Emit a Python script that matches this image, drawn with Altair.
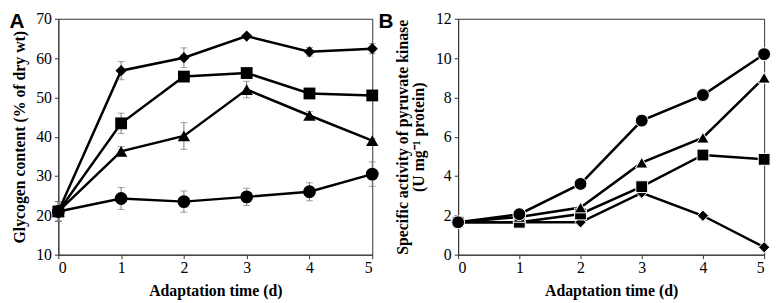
import altair as alt
import pandas as pd

# ---------------- data ----------------
days = [0, 1, 2, 3, 4, 5]
markers = ["diamond", "square", "triangle", "circle"]

# Panel A: glycogen content (% of dry wt)
glycogen_diamond = [21.0, 56.8, 60.1, 65.6, 61.6, 62.4]
glycogen_diamond_err = [2.5, 2.3, 2.5, 0.4, 1.1, 1.3]
glycogen_square = [21.0, 43.4, 55.3, 56.2, 51.0, 50.5]
glycogen_square_err = [2.5, 2.6, 1.0, 0.6, 0.6, 0.6]
glycogen_triangle = [21.0, 36.3, 40.2, 52.0, 45.4, 39.0]
glycogen_triangle_err = [2.5, 1.2, 3.4, 2.1, 1.0, 0.5]
glycogen_circle = [21.0, 24.3, 23.5, 24.7, 26.0, 30.5]
glycogen_circle_err = [2.5, 2.8, 2.7, 2.2, 2.3, 3.1]

# Panel B: specific activity of pyruvate kinase (U mg-1 protein)
pk_diamond = [1.65, 1.65, 1.65, 3.15, 1.98, 0.38]
pk_square = [1.65, 1.65, 2.07, 3.46, 5.07, 4.85]
pk_triangle = [1.65, 1.92, 2.40, 4.68, 5.95, 9.0]
pk_circle = [1.65, 2.06, 3.60, 6.82, 8.12, 10.2]

ticks_A = [10, 20, 30, 40, 50, 60, 70]
ticks_B = [0, 2, 4, 6, 8, 10, 12]

# ---------------- tables ----------------
rowsA = []
for m, vals, errs in zip(
    markers,
    [glycogen_diamond, glycogen_square, glycogen_triangle, glycogen_circle],
    [glycogen_diamond_err, glycogen_square_err, glycogen_triangle_err, glycogen_circle_err],
):
    for d, v, e in zip(days, vals, errs):
        rowsA.append({"day": d, "value": v, "lo": v - e, "hi": v + e, "marker": m})
dfA = pd.DataFrame(rowsA)

rowsB = []
for m, vals in zip(markers, [pk_diamond, pk_square, pk_triangle, pk_circle]):
    for d, v in zip(days, vals):
        rowsB.append({"day": d, "value": v, "marker": m})
dfB = pd.DataFrame(rowsB)

SERIF = "Liberation Serif"
SANS = "Liberation Sans"

shape_scale = alt.Scale(domain=markers, range=["diamond", "square", "triangle-up", "circle"])
size_scale = alt.Scale(domain=markers, range=[130, 170, 150, 180])

x_enc = alt.X(
    "day:Q",
    scale=alt.Scale(domain=[0, 5], nice=False),
    axis=alt.Axis(values=days, title="Adaptation time (d)", format="d",
                  labelPadding=1, titlePadding=7, labelOverlap=False),
)


def panel(df, y_domain, y_ticks, y_title, title_pad, label, label_x, with_err, pt_stroke):
    y_axis = alt.Axis(values=y_ticks, title=y_title, titlePadding=title_pad,
                      labelPadding=3, titleLineHeight=16, labelOverlap=False)
    y_scale = alt.Scale(domain=y_domain, nice=False, zero=False)
    y_enc = alt.Y("value:Q", scale=y_scale, axis=y_axis)
    base = alt.Chart(df).encode(x=x_enc)
    layers = [
        base.mark_line(color="black", strokeWidth=2.5).encode(y=y_enc, detail="marker:N")
    ]
    if with_err:
        layers.append(
            base.mark_errorbar(ticks=True, size=7, thickness=1, color="#7a7a7a").encode(
                y=alt.Y("lo:Q", scale=y_scale, axis=y_axis),
                y2="hi:Q",
            )
        )
    pt_kwargs = dict(filled=True, opacity=1, color="black")
    if pt_stroke:
        pt_kwargs.update(stroke="white", strokeWidth=1)
    layers.append(
        base.mark_point(**pt_kwargs).encode(
            y=y_enc,
            shape=alt.Shape("marker:N", scale=shape_scale, legend=None),
            size=alt.Size("marker:O", scale=size_scale, legend=None),
        )
    )
    layers.append(
        alt.Chart(pd.DataFrame({"t": [label]})).mark_text(
            font=SANS, fontSize=21, fontWeight="bold", align="center", baseline="middle",
            color="black",
        ).encode(text="t:N", x=alt.value(label_x), y=alt.value(3))
    )
    return alt.layer(*layers)


H = 239
chartA = panel(dfA, [10, 70], ticks_A, "Glycogen content (% of dry wt)", 8, "A", -42, True, False).properties(
    width=318, height=H
)
chartB = panel(
    dfB, [0, 12], ticks_B,
    ["Specific activity of pyruvate kinase", "(U mg\u207b\u00b9 protein)"],
    9, "B", -73, False, True,
).properties(width=310, height=H)

chart = (
    alt.hconcat(chartA, chartB, spacing=87, bounds="flush")
    .properties(padding={"left": 0, "top": 0, "right": 0, "bottom": 0})
    .configure_view(stroke="#333333", strokeWidth=1)
    .configure_axis(
        labelFont=SERIF, labelFontSize=16, labelColor="black",
        titleFont=SERIF, titleFontSize=16, titleFontWeight="bold", titleColor="black",
        domainColor="#333333", tickColor="#333333", tickSize=4, grid=False,
    )
)

chart.save("out.html", embed_options={"renderer": "svg", "actions": False})
